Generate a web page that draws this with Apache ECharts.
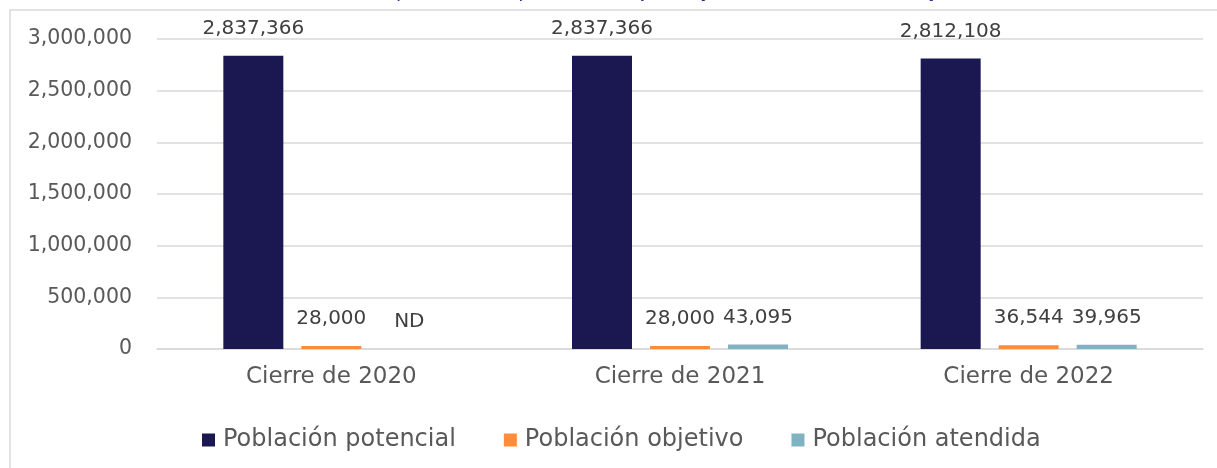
<!DOCTYPE html>
<html>
<head>
<meta charset="utf-8">
<script src="https://cdn.jsdelivr.net/npm/echarts@6/dist/echarts.min.js"></script>
<style>
html,body{margin:0;padding:0;background:#fff;}
#chart{width:1217px;height:468px;}
</style>
</head>
<body>
<div id="chart"></div>
<script>
const categories = ['Cierre de 2020', 'Cierre de 2021', 'Cierre de 2022'];
const potencial = [2837366, 2837366, 2812108];
const objetivo = [28000, 28000, 36544];
const atendida = [null, 43095, 39965];
const seriesNames = ['Población potencial', 'Población objetivo', 'Población atendida'];
const yTicks = [0, 500000, 1000000, 1500000, 2000000, 2500000, 3000000];
const titleText = 'Gráfica 3. Evolución de la cobertura del Pp (Población potencial, objetivo y atendida, 2020, 2021 y 2022)';

const colors = ['#1b1751', '#fe8c3a', '#7eb3c1'];
const fmt = v => Number(v).toLocaleString('en-US');
const labelStyle = {
  show: true, position: 'top', distance: 17,
  fontFamily: '"DejaVu Sans", sans-serif', fontSize: 20, color: '#404040',
  formatter: p => fmt(p.value)
};

const chart = echarts.init(document.getElementById('chart'));
chart.setOption({
  animation: false,
  color: colors,
  graphic: [
    { type: 'rect', silent: true, z: -1,
      shape: { x: 10, y: 10, width: 1300, height: 600 },
      style: { fill: '#fff', stroke: '#d9d9d9', lineWidth: 1.5 } },
    { type: 'text', left: 2, top: -17,
      style: { text: titleText, font: '19px "DejaVu Sans", sans-serif', fill: '#2e2e96' } }
  ],
  grid: { left: 157, right: 14, top: 39, bottom: 119 },
  legend: {
    top: 423, left: 197,
    itemWidth: 13, itemHeight: 13, itemGap: 48, icon: 'rect',
    textStyle: { fontFamily: '"DejaVu Sans", sans-serif', fontSize: 24, color: '#595959', padding: [0, 0, 0, 3] },
    data: seriesNames
  },
  xAxis: {
    type: 'category', data: categories,
    axisLine: { lineStyle: { color: '#d9d9d9', width: 1.5 } },
    axisTick: { show: false },
    axisLabel: { margin: 17, fontFamily: '"DejaVu Sans", sans-serif', fontSize: 23, color: '#595959' }
  },
  yAxis: {
    type: 'value', min: yTicks[0], max: yTicks[yTicks.length - 1], interval: yTicks[1] - yTicks[0],
    axisLine: { show: false }, axisTick: { show: false },
    splitLine: { lineStyle: { color: '#d9d9d9', width: 1.5 } },
    axisLabel: { margin: 25, fontFamily: '"DejaVu Sans", sans-serif', fontSize: 20.5, color: '#595959', formatter: v => fmt(v) }
  },
  series: [
    { name: seriesNames[0], type: 'bar', data: potencial, barWidth: 60, barGap: '30%', label: labelStyle },
    { name: seriesNames[1], type: 'bar', data: objetivo, barWidth: 60, barGap: '30%', label: labelStyle },
    { name: seriesNames[2], type: 'bar', barWidth: 60, barGap: '30%', label: labelStyle,
      data: atendida.map(v => v === null
        ? { value: 0, itemStyle: { color: 'rgba(0,0,0,0)' }, label: { formatter: 'ND' } }
        : v) }
  ]
});
</script>
</body>
</html>
